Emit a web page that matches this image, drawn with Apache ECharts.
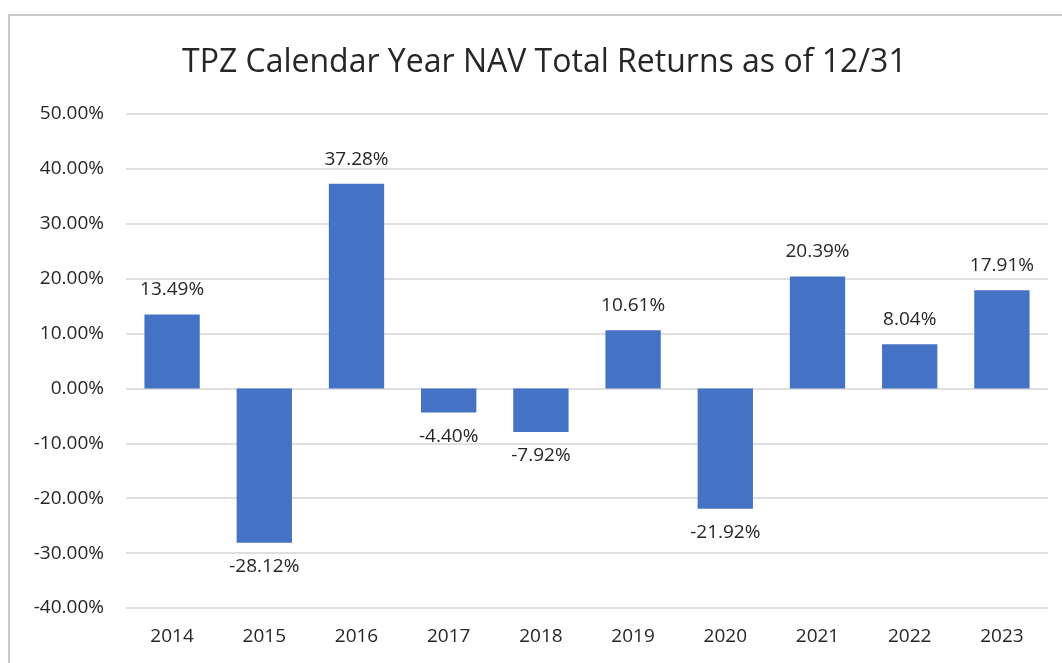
<!DOCTYPE html>
<html><head><meta charset="utf-8">
<script src="https://cdn.jsdelivr.net/npm/echarts@6/dist/echarts.min.js"></script>
<style>html,body{margin:0;padding:0;background:#fff;}#c{width:1062px;height:663px;}</style>
</head><body><div id="c"></div>
<script>
const categories = ['2014','2015','2016','2017','2018','2019','2020','2021','2022','2023'];
const returnsPct = [13.49, -28.12, 37.28, -4.40, -7.92, 10.61, -21.92, 20.39, 8.04, 17.91];
const yTicks = { min: -40, max: 50, interval: 10 };
const titleText = 'TPZ Calendar Year NAV Total Returns as of 12/31';

const chart = echarts.init(document.getElementById('c'), null, {renderer:'canvas'});
const font = '"Open Sans", "Noto Sans", sans-serif';
chart.setOption({
  animation: false,
  graphic: [{type:'rect', shape:{x:9, y:15, width:1100, height:700}, style:{fill:'none', stroke:'#c9c9c9', lineWidth:2}, silent:true}],
  title: {text: titleText, left: 177, top: 42, textStyle:{fontFamily: font, fontWeight:'normal', fontSize: 32, color:'#262626'}},
  grid: {left:126, right:14, top:114, bottom:55, containLabel:false},
  xAxis: {type:'category', data: categories, axisLine:{show:false}, axisTick:{show:false},
    axisLabel:{fontFamily: font, fontSize:19, color:'#262626', margin: 19}},
  yAxis: {type:'value', min: yTicks.min, max: yTicks.max, interval: yTicks.interval,
    axisLabel:{fontFamily: font, fontSize:19, color:'#262626', margin: 22, formatter: v => v.toFixed(2)+'%'},
    splitLine:{lineStyle:{color:'#d4d4d4', width:1.5}}, axisLine:{show:false}, axisTick:{show:false}},
  series: [{type:'bar', data: returnsPct.map(v => ({value:v, label:{position: v>=0?'top':'bottom', distance: v>=0?15:14}})),
    barWidth:'60%', itemStyle:{color:'#4472C4'},
    label:{show:true, fontFamily: font, fontSize:19, color:'#262626', formatter: p => p.value.toFixed(2)+'%'}}]
});
</script></body></html>
